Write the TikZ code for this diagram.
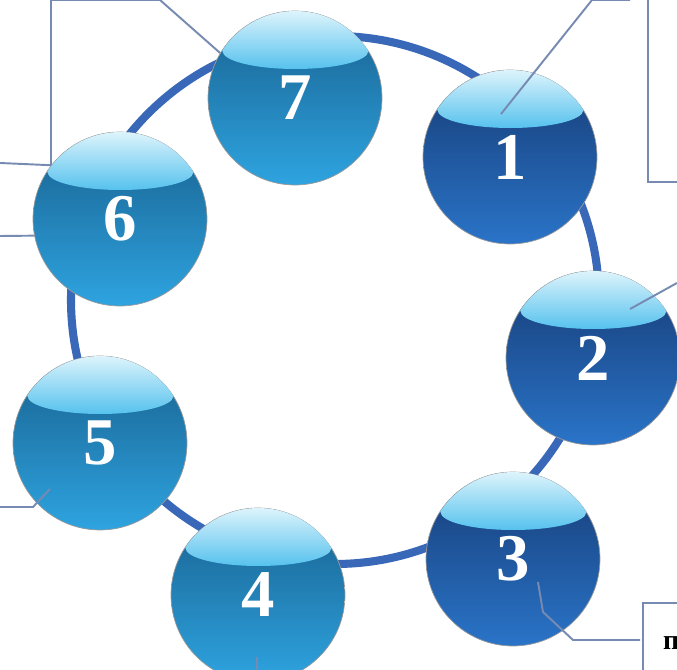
\documentclass[tikz,border=0pt]{standalone}
\usepackage{fontspec}
\setmainfont{Liberation Serif}
\usetikzlibrary{positioning, calc}
\definecolor{ringblue}{RGB}{58,104,184}
\definecolor{leadgray}{RGB}{118,138,178}
\definecolor{navytop}{RGB}{22,60,118}
\definecolor{navybot}{RGB}{42,116,200}
\definecolor{tealtop}{RGB}{24,96,142}
\definecolor{tealbot}{RGB}{46,164,224}
\definecolor{captop}{RGB}{224,245,252}
\definecolor{capbot}{RGB}{86,194,238}

\begin{document}
\begin{tikzpicture}[x=0.02cm, y=0.02cm,
    ball/.style={circle, minimum size=3.48cm, inner sep=0pt, draw=black!40, thin, text=white, font=\fontsize{38}{38}\selectfont\bfseries},
    darkball/.style={ball, top color=navytop, middle color=navytop!95!navybot, bottom color=navybot},
    lightball/.style={ball, top color=tealtop, middle color=tealtop!92!tealbot, bottom color=tealbot},
    ringline/.style={line width=4.6pt, ringblue},
    leader/.style={line width=1.1pt, leadgray},
    tag/.style={anchor=base west, font=\fontsize{16}{16}\selectfont\bfseries}
]
\useasboundingbox (0,0) rectangle (677,670);
\clip (0,0) rectangle (677,670);

% ring behind the balls
\coordinate (ringc) at (335,370);
\draw[ringline] (ringc) circle[radius=264];

% balls around the ring
\node[lightball] (b7) at (295,572) {7};
\node[darkball] (b1) at (510,513) {1};
\node[darkball] (b2) at (593,312) {2};
\node[darkball] (b3) at (513,111) {3};
\node[lightball] (b4) at (258,75) {4};
\node[lightball] (b5) at (100,227) {5};
\node[lightball] (b6) at (120,451) {6};

% glossy caps
\foreach \n in {1,...,7}
  \shade[top color=captop, bottom color=capbot] ($(b\n)+(-73,47)$) arc[start angle=147.3, end angle=32.7, radius=87] arc[start angle=0, end angle=-180, x radius=73, y radius=18] -- cycle;

% leader ends
\coordinate (t7) at (160,670);
\coordinate (t6) at (0,507);
\coordinate (t6b) at (0,434);
\coordinate (p1) at (501,556);
\coordinate (k1) at (592,670);
\coordinate (t1) at (630,670);
\coordinate (p2) at (630,361);
\coordinate (t2) at (677,387);
\coordinate (p3) at (538,88);
\coordinate (t3) at (640,30);
\coordinate (p4) at (257,13);
\coordinate (t4) at (257,0);
\coordinate (p5) at (50,181);
\coordinate (t5) at (0,163);

\draw[leader] (b7.149) -- (t7);
\draw[leader] (b6.142) |- (t7);
\draw[leader] (b6.142) -- (t6);
\draw[leader] (b6.191) -- (t6b);
\draw[leader] (p1) -- (k1) -- (t1);
\draw[leader] (677,488) -| (648,670);
\draw[leader] (p2) -- (t2);
\draw[leader] (p3) -- (543,58) -- (573,30) -- (t3);
\draw[leader] (677,67) -| (643,0);
\node[tag] (txt3) at (657,20) {п};
\draw[leader] (p4) -- (t4);
\draw[leader] (p5) -- (33,163) -- (t5);
\end{tikzpicture}
\end{document}
